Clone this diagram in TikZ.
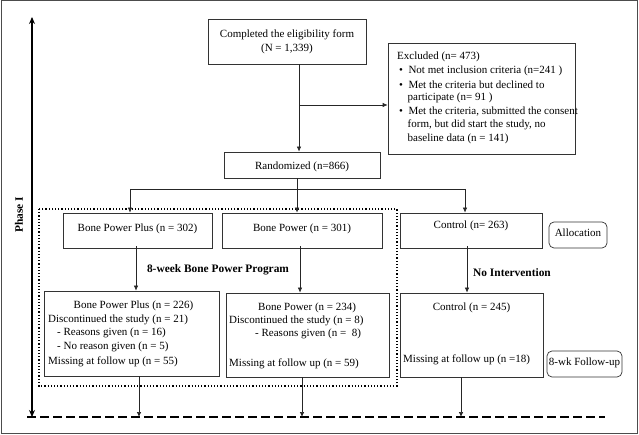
\documentclass[tikz,border=0pt]{standalone}
\usepackage{fontspec}
\setmainfont{Liberation Serif}
\usetikzlibrary{arrows.meta}
\begin{document}
\begin{tikzpicture}[x=1pt,y=-1pt,
  every node/.style={font=\fontsize{11}{12}\selectfont, inner sep=0pt},
  box/.style={draw=black!80, line width=0.7pt},
  rbox/.style={draw=black!80, line width=0.7pt, rounded corners=5pt},
  txt/.style={anchor=west},
  arr/.style={-{Latex[length=5pt,width=4.5pt]}, line width=0.7pt, draw=black!85},
  lbl/.style={font=\fontsize{11.4}{12}\selectfont\bfseries}]
\useasboundingbox (0,0) rectangle (639,435);
\draw[black!70, line width=1pt] (1,1) rectangle (637,433);

% phase arrow
\coordinate (ph1) at (32,17);
\coordinate (ph2) at (32,417);
\draw[{Stealth[length=7pt,width=6pt]}-{Stealth[length=7pt,width=6pt]}, line width=1.6pt] (ph1) -- (ph2);
\node[lbl, rotate=90] (phase) at (19,215) {Phase I};

% dotted group
\draw[line width=1.6pt, dash pattern=on 1.2pt off 2pt] (39,209) rectangle (397,386);

% boxes
\node[box, minimum width=158pt, minimum height=45pt] (top) at (287,41.5) {};
\node (top1) at (287,35) {Completed the eligibility form};
\node (top2) at (287,48.5) {(N = 1,339)};

\node[box, minimum width=187pt, minimum height=111pt] (excl) at (481.5,98.5) {};
\node[txt] (e0) at (397,57) {Excluded (n= 473)};
\node[txt] (e1) at (399,71) {\textbullet\ \ Not met inclusion criteria (n=241 )};
\node[txt] (e2) at (399,84.5) {\textbullet\ \ Met the criteria but declined to};
\node[txt] (e3) at (407.5,98) {participate (n= 91 )};
\node[txt] (e4) at (399,111.5) {\textbullet\ \ Met the criteria, submitted the consent};
\node[txt] (e5) at (407.5,125) {form, but did start the study, no};
\node[txt] (e6) at (407.5,139) {baseline data (n = 141)};

\node[box, minimum width=156pt, minimum height=26pt] (rand) at (302,165) {};
\node (randt) at (302,166.5) {Randomized (n=866)};

\node[box, minimum width=149pt, minimum height=35pt] (bpp) at (137.5,230.5) {};
\node (bppt) at (137.5,228.5) {Bone Power Plus (n = 302)};
\node[box, minimum width=160pt, minimum height=35pt] (bp) at (302,230.5) {};
\node (bpt) at (302,228.5) {Bone Power (n = 301)};
\node[box, minimum width=142pt, minimum height=35pt] (ctl) at (471,230.5) {};
\node (ctlt) at (471,225.5) {Control (n= 263)};
\node[rbox, minimum width=58pt, minimum height=26pt] (alloc) at (578,235) {};
\node (alloct) at (578,232.5) {Allocation};

\node[box, minimum width=175pt, minimum height=85pt] (bppr) at (131.5,333.5) {};
\node (r1a) at (133.5,306) {Bone Power Plus (n = 226)};
\node[txt] (r1b) at (48,319.5) {Discontinued the study (n = 21)};
\node[txt] (r1c) at (57,332.5) {- Reasons given (n = 16)};
\node[txt] (r1d) at (57,347) {- No reason given (n = 5)};
\node[txt] (r1e) at (48,362) {Missing at follow up (n = 55)};

\node[box, minimum width=163pt, minimum height=84pt] (bpr) at (307.5,335) {};
\node[txt] (r2a) at (258,307.5) {Bone Power (n = 234)};
\node[txt] (r2b) at (229,320.5) {Discontinued the study (n = 8)};
\node[txt] (r2c) at (255,333.5) {- Reasons given (n =\ \ 8)};
\node[txt] (r2e) at (229,364) {Missing at follow up (n = 59)};

\node[box, minimum width=143pt, minimum height=84pt] (ctlr) at (471.5,335) {};
\node (r3a) at (471.5,308) {Control (n = 245)};
\node[txt] (r3e) at (403,360) {Missing at follow up (n =18)};

\node[rbox, minimum width=75pt, minimum height=26pt] (fu) at (584.5,364) {};
\node (fut) at (584.5,363) {8-wk Follow-up};

% labels
\node[lbl] (prog) at (218,270) {8-week Bone Power Program};
\node[lbl] (noint) at (512,273) {No Intervention};

% connectors
\coordinate (c1) at (299,105);
\draw[arr] (top.south -| c1) -- (rand.north -| c1);
\draw[arr] (c1) -- (excl.west |- c1);
\coordinate (h0) at (297,189);
\coordinate (hl) at (130,189);
\coordinate (hr) at (465,189);
\draw[arr] (rand.south -| h0) -- (bp.north -| h0);
\draw[line width=0.7pt, black!85] (hl) -- (hr);
\draw[arr] (hl) -- (bpp.north -| hl);
\draw[arr] (hr) -- (ctl.north -| hr);
\coordinate (a1) at (136,0);
\coordinate (a2) at (300,0);
\coordinate (a3) at (467,0);
\draw[arr] ([yshift=2pt]bpp.south -| a1) -- (bppr.north -| a1);
\draw[arr] ([yshift=2pt]bp.south -| a2) -- (bpr.north -| a2);
\draw[arr] ([yshift=2pt]ctl.south -| a3) -- (ctlr.north -| a3);

% dashed line
\coordinate (d0) at (27,417);
\coordinate (d1) at (605,417);
\draw[line width=2.2pt, dash pattern=on 9pt off 4pt] (d0) -- (d1);
\coordinate (b1) at (139,417);
\coordinate (b2) at (302,417);
\coordinate (b3) at (461,417);
\draw[arr] (bppr.south -| b1) -- (b1);
\draw[arr] (bpr.south -| b2) -- (b2);
\draw[arr] (ctlr.south -| b3) -- (b3);
\end{tikzpicture}
\end{document}
